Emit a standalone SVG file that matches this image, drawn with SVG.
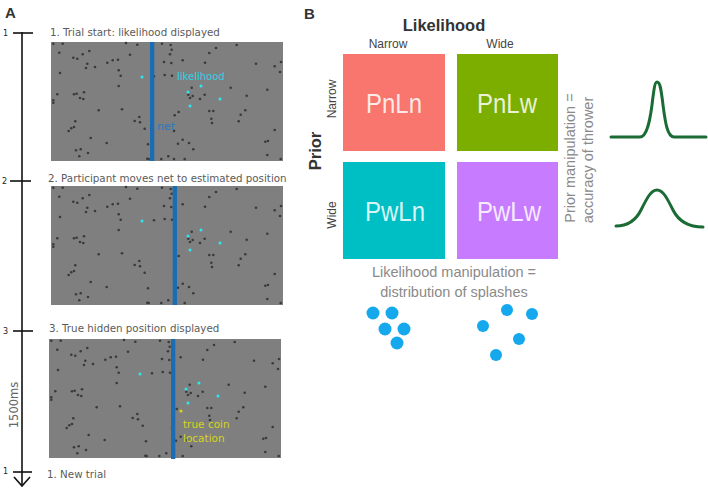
<svg xmlns="http://www.w3.org/2000/svg" xmlns:xlink="http://www.w3.org/1999/xlink" width="708" height="488" viewBox="0 0 708 488">
<style>
.lbl{font-family:"DejaVu Sans",sans-serif;font-size:10.3px;fill:#5a5a5a}
.num{font-family:"DejaVu Sans",sans-serif;font-size:8px;fill:#222}
.panel{fill:#7f7f7f}
.gd{fill:#3a3a3a}
.cd{fill:#2ee6f2}
.net{fill:#1a6db5}
.hd{font-family:"Liberation Sans",Arial,sans-serif;font-weight:bold;fill:#333}
.sub{font-family:"Liberation Sans",Arial,sans-serif;font-size:12px;fill:#444}
.cell{font-family:"Liberation Sans",Arial,sans-serif;font-size:28px;fill:#ffffff;fill-opacity:0.85;text-anchor:middle}
.note{font-family:"Liberation Sans",Arial,sans-serif;font-size:14.5px;fill:#8a8a8a;text-anchor:middle}
.curve{fill:none;stroke:#1b6b35;stroke-width:3;stroke-linecap:round}
.spl{fill:#16a8ec}
.tl{stroke:#111;stroke-width:1.6;fill:none}
</style>
<defs>
<g id="dots">
<rect class="panel" x="0" y="0" width="232" height="119"/>
<g class="gd">
<circle cx="2.3" cy="1.7" r="1.3"/><circle cx="11.7" cy="1.7" r="1.3"/><circle cx="8.3" cy="10.7" r="1.3"/><circle cx="22.3" cy="15.7" r="1.3"/><circle cx="26.3" cy="16.7" r="1.3"/><circle cx="31.7" cy="12.3" r="1.3"/><circle cx="38.3" cy="9" r="1.3"/><circle cx="36.3" cy="21.7" r="1.3"/><circle cx="35" cy="26" r="1.3"/><circle cx="44" cy="25" r="1.3"/><circle cx="56.3" cy="20.7" r="1.3"/><circle cx="61.7" cy="18.3" r="1.3"/><circle cx="67" cy="17.7" r="1.3"/><circle cx="75" cy="1" r="1.3"/><circle cx="86.3" cy="2.7" r="1.3"/><circle cx="79" cy="12.7" r="1.3"/><circle cx="67.7" cy="28.3" r="1.3"/><circle cx="67.7" cy="44" r="1.3"/><circle cx="69.7" cy="33.7" r="1.3"/><circle cx="9" cy="31" r="1.3"/><circle cx="6.3" cy="52.3" r="1.3"/><circle cx="2.3" cy="58.3" r="1.3"/><circle cx="2.3" cy="60.7" r="1.3"/><circle cx="23" cy="52.3" r="1.3"/><circle cx="25.7" cy="51.7" r="1.3"/><circle cx="29" cy="56" r="1.3"/><circle cx="32.3" cy="57" r="1.3"/><circle cx="33" cy="50.3" r="1.3"/><circle cx="47.7" cy="68.3" r="1.3"/><circle cx="71" cy="67.3" r="1.3"/><circle cx="83.7" cy="79" r="1.3"/><circle cx="88.3" cy="75" r="1.3"/><circle cx="89" cy="80.3" r="1.3"/><circle cx="93.7" cy="86.7" r="1.3"/><circle cx="24.3" cy="79.3" r="1.3"/><circle cx="23" cy="85" r="1.3"/><circle cx="20.3" cy="86.3" r="1.3"/><circle cx="17.7" cy="89" r="1.3"/><circle cx="39.7" cy="96" r="1.3"/><circle cx="55.7" cy="101" r="1.3"/><circle cx="25" cy="108.3" r="1.3"/><circle cx="29.7" cy="107.3" r="1.3"/><circle cx="28.3" cy="114.3" r="1.3"/><circle cx="37" cy="111" r="1.3"/><circle cx="97" cy="102.3" r="1.3"/><circle cx="96.3" cy="116.7" r="1.3"/><circle cx="103" cy="34.3" r="1.3"/><circle cx="111" cy="1.7" r="1.3"/><circle cx="119.7" cy="3" r="1.3"/><circle cx="120.7" cy="7.7" r="1.3"/><circle cx="119" cy="12.3" r="1.3"/><circle cx="113" cy="20" r="1.3"/><circle cx="120.3" cy="21" r="1.3"/><circle cx="113.7" cy="33" r="1.3"/><circle cx="121" cy="33.7" r="1.3"/><circle cx="131.7" cy="18.3" r="1.3"/><circle cx="140.7" cy="45.7" r="1.3"/><circle cx="139" cy="56" r="1.3"/><circle cx="137.3" cy="52.7" r="1.3"/><circle cx="141.7" cy="54" r="1.3"/><circle cx="149" cy="57" r="1.3"/><circle cx="153.7" cy="52.7" r="1.3"/><circle cx="158.3" cy="69" r="1.3"/><circle cx="162.3" cy="69" r="1.3"/><circle cx="160.3" cy="76.7" r="1.3"/><circle cx="161" cy="81" r="1.3"/><circle cx="185.7" cy="3" r="1.3"/><circle cx="158.3" cy="11" r="1.3"/><circle cx="165" cy="6" r="1.3"/><circle cx="154" cy="20.7" r="1.3"/><circle cx="179.7" cy="45.7" r="1.3"/><circle cx="195.7" cy="53.7" r="1.3"/><circle cx="194.3" cy="68.3" r="1.3"/><circle cx="189.7" cy="72.7" r="1.3"/><circle cx="187.7" cy="79.3" r="1.3"/><circle cx="205" cy="21.7" r="1.3"/><circle cx="216.3" cy="47.7" r="1.3"/><circle cx="223.7" cy="24.3" r="1.3"/><circle cx="229" cy="30" r="1.3"/><circle cx="230" cy="20" r="1.3"/><circle cx="223.7" cy="88" r="1.3"/><circle cx="214.3" cy="99.7" r="1.3"/><circle cx="217" cy="99" r="1.3"/><circle cx="216.3" cy="113" r="1.3"/><circle cx="229.7" cy="117" r="1.3"/><circle cx="123.7" cy="73.3" r="1.3"/><circle cx="127.7" cy="70" r="1.3"/><circle cx="123" cy="89" r="1.3"/><circle cx="127" cy="101.7" r="1.3"/><circle cx="131.7" cy="97.7" r="1.3"/><circle cx="142.3" cy="107.3" r="1.3"/><circle cx="138" cy="101" r="1.3"/><circle cx="117.3" cy="114.3" r="1.3"/><circle cx="123" cy="117" r="1.3"/><circle cx="133.7" cy="117" r="1.3"/><circle cx="110.3" cy="117" r="1.3"/><circle cx="97.7" cy="117" r="1.3"/>
</g>
<g class="cd">
<circle cx="91" cy="35" r="1.5"/><circle cx="137" cy="50" r="1.5"/><circle cx="150" cy="44" r="1.5"/><circle cx="169" cy="57" r="1.5"/><circle cx="139" cy="64" r="1.5"/>
</g>
</g>
</defs>

<!-- Panel A -->
<g id="labelA"><text class="hd" x="5" y="18" font-size="15">A</text></g>

<g id="timeline">
<line class="tl" x1="22" y1="32" x2="22" y2="486"/>
<line class="tl" x1="13" y1="33" x2="33" y2="33"/>
<line class="tl" x1="10" y1="181" x2="31" y2="181"/>
<line class="tl" x1="13" y1="331" x2="33" y2="331"/>
<line class="tl" x1="13" y1="472" x2="32" y2="472"/>
<polyline class="tl" points="14,477 22,486 30,477" stroke-width="2.2"/>
<text class="num" x="3" y="36">1</text>
<text class="num" x="2" y="184">2</text>
<text class="num" x="3" y="334">3</text>
<text class="num" x="3" y="474">1</text>
<text font-family="DejaVu Sans, sans-serif" font-size="11.5" fill="#666" text-anchor="middle" transform="translate(18,405) rotate(-90)">1500ms</text>
</g>

<g id="step1">
<text class="lbl" x="50" y="36">1. Trial start: likelihood displayed</text>
<use xlink:href="#dots" x="51" y="42"/>
<rect class="net" x="150" y="42" width="4.3" height="119"/>
<text x="177" y="80" font-family="DejaVu Sans, sans-serif" font-size="10" fill="#2ad4e4">likelihood</text>
<text x="157" y="130" font-family="DejaVu Sans, sans-serif" font-size="11" fill="#2a78c2">net</text>
</g>

<g id="step2">
<text class="lbl" x="48" y="182">2. Participant moves net to estimated position</text>
<use xlink:href="#dots" x="51" y="186"/>
<rect class="net" x="172.7" y="186" width="4.3" height="119"/>
</g>

<g id="step3">
<text class="lbl" x="49" y="332">3. True hidden position displayed</text>
<use xlink:href="#dots" x="49" y="339"/>
<rect class="net" x="171" y="339" width="4.3" height="120"/>
<circle cx="181" cy="411" r="1.6" fill="#d8d41c"/>
<text x="183" y="428" font-family="DejaVu Sans, sans-serif" font-size="10.5" fill="#d6d41e">true coin</text>
<text x="183" y="442" font-family="DejaVu Sans, sans-serif" font-size="10.5" fill="#d6d41e">location</text>
</g>

<g id="step4"><text class="lbl" x="47" y="478">1. New trial</text></g>

<!-- Panel B -->
<g id="labelB"><text class="hd" x="304" y="19" font-size="15">B</text></g>

<g id="axes">
<text class="hd" x="444" y="31" font-size="16.5" text-anchor="middle">Likelihood</text>
<text class="sub" x="388" y="48" text-anchor="middle">Narrow</text>
<text class="sub" x="500" y="48" text-anchor="middle">Wide</text>
<text class="hd" font-size="16.5" text-anchor="middle" transform="translate(321,151) rotate(-90)">Prior</text>
<text class="sub" text-anchor="middle" transform="translate(336,99) rotate(-90)">Narrow</text>
<text class="sub" text-anchor="middle" transform="translate(336,215) rotate(-90)">Wide</text>
</g>

<g id="PnLn"><rect x="343" y="54" width="102" height="97" fill="#F8766D"/><text class="cell" x="394" y="113" textLength="56" lengthAdjust="spacingAndGlyphs">PnLn</text></g>
<g id="PnLw"><rect x="457" y="54" width="101" height="97" fill="#7CAE00"/><text class="cell" x="507" y="113" textLength="60" lengthAdjust="spacingAndGlyphs">PnLw</text></g>
<g id="PwLn"><rect x="343" y="162" width="102" height="97" fill="#00BFC4"/><text class="cell" x="395" y="221" textLength="60" lengthAdjust="spacingAndGlyphs">PwLn</text></g>
<g id="PwLw"><rect x="457" y="162" width="101" height="97" fill="#C77CFF"/><text class="cell" x="509" y="221" textLength="64" lengthAdjust="spacingAndGlyphs">PwLw</text></g>

<g id="prior-note">
<text class="note" transform="translate(575,158) rotate(-90)">Prior manipulation =</text>
<text class="note" transform="translate(593,160) rotate(-90)">accuracy of thrower</text>
</g>

<g id="curves">
<path class="curve" d="M611,137 H640 C647,137 650,120 652,105 C654,88 655,82 657,82 C660,82 661,88 663,105 C665,120 667,137 674,137 H706"/>
<path class="curve" d="M616,226 C628,226 636,220 641,210 C647,198 651,190 657,190 C663,190 667,198 673,210 C678,220 688,227 703,227"/>
</g>

<g id="lik-note">
<text class="note" x="454" y="277">Likelihood manipulation =</text>
<text class="note" x="454" y="297">distribution of splashes</text>
</g>

<g id="splashes">
<g class="spl">
<circle cx="373" cy="313" r="6.5"/><circle cx="392" cy="313" r="6.5"/><circle cx="385" cy="329" r="6.5"/><circle cx="404" cy="329" r="6.5"/><circle cx="397" cy="343" r="6.5"/>
<circle cx="507" cy="310" r="6"/><circle cx="532" cy="314" r="6"/><circle cx="483" cy="326" r="6"/><circle cx="519" cy="339" r="6"/><circle cx="496" cy="355" r="6"/>
</g>
</g>
<g id="connectors"/>
</svg>
